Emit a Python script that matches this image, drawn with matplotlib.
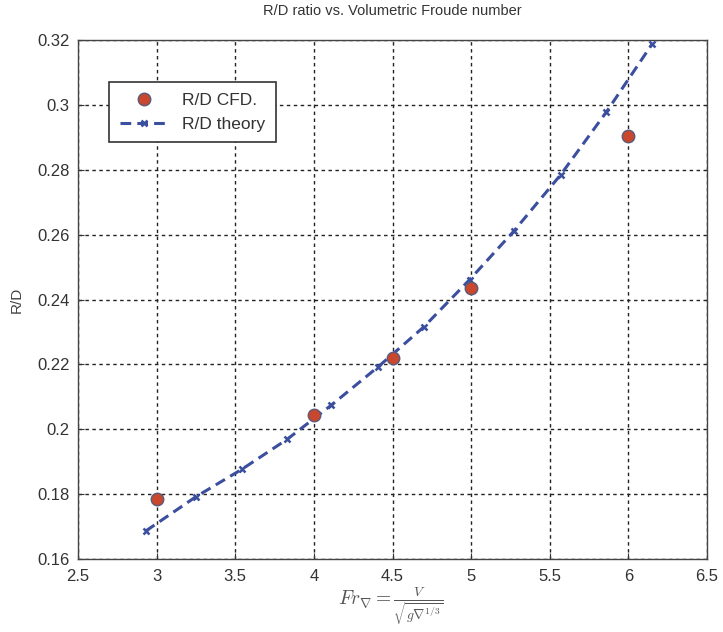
"""R/D ratio vs. volumetric Froude number (CFD vs theory)."""
import matplotlib
matplotlib.use("Agg")
import matplotlib.pyplot as plt

cfd_fr = [3.0, 4.0, 4.5, 5.0, 6.0]
cfd_rd = [0.1784, 0.2043, 0.2220, 0.2437, 0.2905]

theory_fr = [2.93, 3.25, 3.54, 3.83, 4.11, 4.41, 4.70, 4.99, 5.27, 5.57, 5.86, 6.15]
theory_rd = [0.1686, 0.1792, 0.1876, 0.1969, 0.2074, 0.2193, 0.2316, 0.2461,
             0.2610, 0.2785, 0.2978, 0.3187]

xticks = [2.5, 3, 3.5, 4, 4.5, 5, 5.5, 6, 6.5]
yticks = [0.16, 0.18, 0.2, 0.22, 0.24, 0.26, 0.28, 0.3, 0.32]
xtick_labels = ["2.5", "3", "3.5", "4", "4.5", "5", "5.5", "6", "6.5"]
ytick_labels = ["0.16", "0.18", "0.2", "0.22", "0.24", "0.26", "0.28", "0.3", "0.32"]

plt.rcParams["font.family"] = ["Liberation Sans", "DejaVu Sans"]
plt.rcParams["mathtext.fontset"] = "cm"

fig = plt.figure(figsize=(7.23, 6.32), dpi=100)
ax = fig.add_axes([0.1079, 0.1155, 0.8700, 0.8212])

ax.plot(theory_fr, theory_rd, linestyle=(0, (3.5, 2)), color="#3b4f9e", lw=2.2,
        marker="x", markersize=5, markeredgewidth=1.8, label="R/D theory", zorder=3)
ax.plot(cfd_fr, cfd_rd, linestyle="none", marker="o", markersize=9,
        markerfacecolor="#c9472c", markeredgecolor="#5a5a7a", markeredgewidth=1.0,
        label="R/D CFD.", zorder=4)

ax.set_xlim(2.5, 6.5)
ax.set_ylim(0.16, 0.32)
ax.set_xticks(xticks)
ax.set_xticklabels(xtick_labels)
ax.set_yticks(yticks)
ax.set_yticklabels(ytick_labels)
ax.tick_params(labelsize=12, colors="#333333", direction="in", length=4)
ax.tick_params(axis="x", pad=7)
ax.tick_params(axis="y", pad=6)
ax.grid(True, linestyle=(0, (2.5, 2.5)), color="#222222", lw=1.0)

for sp in ax.spines.values():
    sp.set_color("#444444")
    sp.set_linewidth(1.0)

ax.set_title("R/D ratio vs. Volumetric Froude number", fontsize=10.5, color="#333333", pad=18)
ax.set_ylabel("R/D", fontsize=11, color="#444444", labelpad=10)
# x label placed by hand so the tall fraction stays inside the figure
fig.text(0.54, 0.038, r"$Fr_{\nabla} = \frac{V}{\sqrt{g\nabla^{1/3}}}$", fontsize=14,
         color="#555555", ha="center", va="center")

handles, labels = ax.get_legend_handles_labels()
leg = ax.legend(handles[::-1], labels[::-1], loc="upper left",
                bbox_to_anchor=(0.036, 0.935), fontsize=12.5, fancybox=False,
                edgecolor="#333333", framealpha=1, borderpad=0.6, handlelength=2.8)
leg.get_frame().set_linewidth(1.2)
for t in leg.get_texts():
    t.set_color("#333333")

fig.savefig("out.png", dpi=100)
